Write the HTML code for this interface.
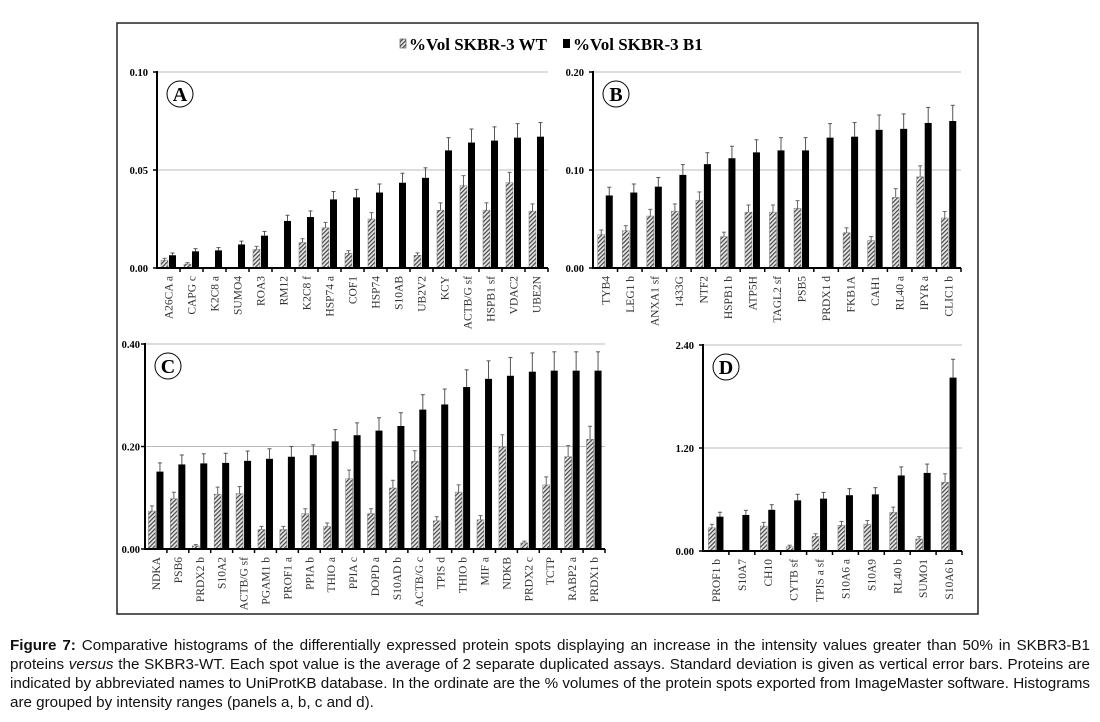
<!DOCTYPE html>
<html><head><meta charset="utf-8"><style>
body{margin:0;background:#fff;width:1100px;height:722px;overflow:hidden;position:relative}
#cap{position:absolute;left:10px;top:636px;width:1080px;font-family:"Liberation Sans",sans-serif;font-size:15.2px;line-height:19px;color:#111}
#cap div{text-align:justify;text-align-last:justify;white-space:nowrap}
#cap div.l{text-align-last:left}
</style></head><body>
<svg id="s" width="1100" height="722" style="position:absolute;left:0;top:0" xmlns="http://www.w3.org/2000/svg">
<defs><pattern id="h" width="3" height="3" patternUnits="userSpaceOnUse" patternTransform="rotate(-45)"><rect width="3" height="3" fill="#e8e8e8"/><rect width="3" height="1.2" fill="#444"/></pattern></defs>
<rect x="117" y="23" width="861" height="591" fill="none" stroke="#222" stroke-width="1.5"/>
<rect x="400" y="39" width="6" height="9" fill="url(#h)" stroke="#444" stroke-width="0.6"/>
<text x="409" y="50" font-family="Liberation Serif,serif" font-weight="bold" font-size="17">%Vol SKBR-3 WT</text>
<rect x="563" y="39" width="7" height="9" fill="#000"/>
<text x="573" y="50" font-family="Liberation Serif,serif" font-weight="bold" font-size="17">%Vol SKBR-3 B1</text>
</svg>
<div id="cap"><div><b>Figure 7:</b> Comparative histograms of the differentially expressed protein spots displaying an increase in the intensity values greater than 50% in SKBR3-B1</div><div>proteins <i>versus</i> the SKBR3-WT. Each spot value is the average of 2 separate duplicated assays. Standard deviation is given as vertical error bars. Proteins are</div><div>indicated by abbreviated names to UniProtKB database. In the ordinate are the % volumes of the protein spots exported from ImageMaster software. Histograms</div><div class="l">are grouped by intensity ranges (panels a, b, c and d).</div></div>
<script>
var S=document.getElementById('s'),NS='http://www.w3.org/2000/svg';
function el(t,a,txt){var e=document.createElementNS(NS,t);for(var k in a)e.setAttribute(k,a[k]);if(txt!=null)e.textContent=txt;S.appendChild(e);return e;}
function panel(P){
 var x0=P.x0,x1=P.x1,yt=P.yt,yb=P.yb,n=P.d.length,w=(x1-x0)/n,sc=(yb-yt)/P.max;
 el('line',{x1:x0,y1:(yt+yb)/2,x2:x1,y2:(yt+yb)/2,stroke:'#bbb','stroke-width':1});
 el('line',{x1:x0,y1:yt,x2:x1,y2:yt,stroke:'#bbb','stroke-width':1});
 P.ticks.forEach(function(t,i){var y=yb-(yb-yt)*i/2;
  el('text',{x:x0-(P.off||9),y:y+4,'text-anchor':'end','font-family':'Liberation Serif,serif','font-weight':'bold','font-size':10.5},t);
  el('line',{x1:x0-4,y1:y,x2:x0,y2:y,stroke:'#000','stroke-width':1.5});});
 P.d.forEach(function(r,i){
  var cx=x0+w*i+w/2,bw=7;
  if(r[1]>0){var h=r[1]*sc,e=r[1]*0.11*sc+1;
   el('line',{x1:cx-bw/2-0.5,y1:yb-h,x2:cx-bw/2-0.5,y2:yb-h-e,stroke:'#666','stroke-width':1});
   el('line',{x1:cx-bw/2-2.5,y1:yb-h-e,x2:cx-bw/2+1.5,y2:yb-h-e,stroke:'#666','stroke-width':1});
   el('rect',{x:cx-bw-0.5,y:yb-h,width:bw,height:h,fill:'url(#h)',stroke:'#777','stroke-width':0.5});}
  var h2=r[2]*sc,e2=r[2]*0.1*sc+1;
  el('line',{x1:cx+bw/2+0.5,y1:yb-h2,x2:cx+bw/2+0.5,y2:yb-h2-e2,stroke:'#555','stroke-width':1});
  el('line',{x1:cx+bw/2-1.5,y1:yb-h2-e2,x2:cx+bw/2+2.5,y2:yb-h2-e2,stroke:'#555','stroke-width':1});
  el('rect',{x:cx+0.5,y:yb-h2,width:bw,height:h2,fill:'#000'});
  el('line',{x1:x0+w*(i+1),y1:yb,x2:x0+w*(i+1),y2:yb+4,stroke:'#000','stroke-width':1.5});
  el('text',{x:0,y:0,transform:'translate('+(cx+4)+','+(yb+8)+') rotate(-90)','text-anchor':'end','font-family':'Liberation Serif,serif','font-size':11.5,fill:'#333'},r[0]);
 });
 el('line',{x1:x0,y1:yt-1,x2:x0,y2:yb+1,stroke:'#000','stroke-width':2});
 el('line',{x1:x0,y1:yb,x2:x1,y2:yb,stroke:'#000','stroke-width':2});
 el('circle',{cx:x0+23,cy:yt+22,r:13,fill:'#fff',stroke:'#000','stroke-width':1});
 el('text',{x:x0+23,y:yt+29,'text-anchor':'middle','font-family':'Liberation Serif,serif','font-weight':'bold','font-size':20},P.L);
}
panel({L:'A',x0:157,x1:548,yt:72,yb:268,max:.1,ticks:['0.00','0.05','0.10'],d:[
['A26CA a',.004,.0065],['CAPG c',.002,.0085],['K2C8 a',0,.009],['SUMO4',0,.012],['ROA3',.0095,.0165],['RM12',0,.024],['K2C8 f',.013,.026],['HSP74 a',.0205,.035],['COF1',.0075,.036],['HSP74',.025,.0385],['S10AB',0,.0435],['UB2V2',.0065,.046],['KCY',.0295,.06],['ACTB/G sf',.042,.064],['HSPB1 sf',.0295,.065],['VDAC2',.0435,.0665],['UBE2N',.029,.067]]});
panel({L:'B',x0:593,x1:961,yt:72,yb:268,max:.2,ticks:['0.00','0.10','0.20'],d:[
['TYB4',.034,.074],['LEG1 b',.038,.077],['ANXA1 sf',.053,.083],['1433G',.058,.095],['NTF2',.069,.106],['HSPB1 b',.032,.112],['ATP5H',.057,.118],['TAGL2 sf',.057,.12],['PSB5',.061,.12],['PRDX1 d',0,.133],['FKB1A',.036,.134],['CAH1',.028,.141],['RL40 a',.072,.142],['IPYR a',.093,.148],['CLIC1 b',.051,.15]]});
panel({L:'C',x0:145,x1:605,off:5,yt:344,yb:549,max:.4,ticks:['0.00','0.20','0.40'],d:[
['NDKA',.074,.151],['PSB6',.098,.165],['PRDX2 b',.006,.167],['S10A2',.107,.168],['ACTB/G sf',.108,.172],['PGAM1 b',.038,.176],['PROF1 a',.038,.18],['PPIA b',.069,.183],['THIO a',.044,.21],['PPIA c',.137,.222],['DOPD a',.069,.231],['S10AD b',.119,.24],['ACTB/G c',.171,.272],['TPIS d',.055,.282],['THIO b',.111,.316],['MIF a',.057,.332],['NDKB',.199,.338],['PRDX2 c',.012,.346],['TCTP',.125,.348],['RABP2 a',.18,.348],['PRDX1 b',.214,.348]]});
panel({L:'D',x0:703,x1:962,yt:345,yb:551,max:2.4,ticks:['0.00','1.20','2.40'],d:[
['PROF1 b',.27,.40],['S10A7',0,.42],['CH10',.29,.48],['CYTB sf',.05,.59],['TPIS a sf',.17,.61],['S10A6 a',.30,.65],['S10A9',.31,.66],['RL40 b',.45,.88],['SUMO1',.14,.91],['S10A6 b',.80,2.02]]});
</script>
</body></html>
